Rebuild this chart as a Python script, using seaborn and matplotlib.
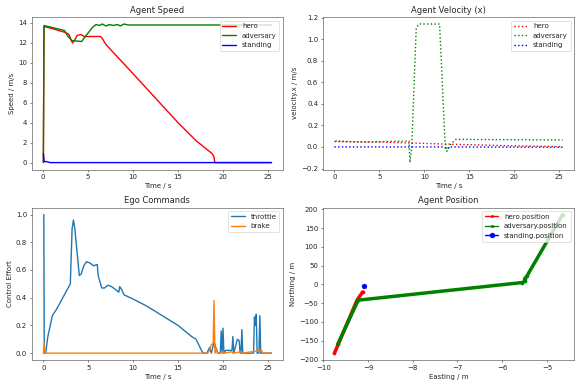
import matplotlib
matplotlib.use('Agg')
import matplotlib.pyplot as plt
import seaborn as sns

sns.set_style("ticks")
plt.rcParams['font.family'] = ['DejaVu Sans']
plt.rcParams['font.size'] = 10
plt.rcParams['axes.titlesize'] = 12
plt.rcParams['legend.fontsize'] = 10
plt.rcParams['lines.linewidth'] = 2.0

# Agent speed (m/s) vs time (s)
hero_speed_t = [0.05, 0.12, 1.0, 2.5, 2.9, 3.1, 3.3, 3.5, 3.8, 4.2, 4.6, 5.5, 6.4, 6.6, 7.0,
                10.0, 15.0, 17.0, 18.8, 19.0, 19.1, 25.4]
hero_speed_v = [0.0, 13.6, 13.4, 13.0, 12.8, 12.3, 11.95, 12.2, 12.7, 12.8, 12.6, 12.6, 12.6,
                12.4, 11.8, 8.9, 4.0, 2.2, 0.9, 0.6, 0.0, 0.0]
adv_speed_t = [0.05, 0.12, 2.4, 2.8, 3.2, 4.3, 4.8, 5.5, 5.9, 6.3, 6.6, 7.0, 7.4, 7.8, 8.3,
               8.6, 9.0, 9.5, 25.4]
adv_speed_v = [0.0, 13.7, 13.2, 12.6, 12.2, 12.1, 12.7, 13.5, 13.8, 13.7, 13.85, 13.65,
               13.8, 13.7, 13.8, 13.65, 13.85, 13.75, 13.75]
stand_speed_t = [0.05, 0.15, 0.4, 0.8, 25.4]
stand_speed_v = [0.9, 0.1, 0.1, 0.0, 0.0]

# Agent velocity x (m/s) vs time (s)
hero_vx_t = [0.0, 5.0, 8.4, 13.0, 20.0, 25.4]
hero_vx_v = [0.05, 0.045, 0.037, 0.025, 0.01, 0.003]
adv_vx_t = [0.1, 3.0, 8.3, 8.4, 8.6, 9.1, 9.4, 11.7, 12.3, 12.5, 13.0, 13.5, 25.4]
adv_vx_v = [0.055, 0.045, 0.055, -0.145, 0.0, 1.1, 1.14, 1.14, 0.05, -0.04, 0.03, 0.07, 0.065]
stand_vx_t = [0.0, 12.2, 12.5, 12.8, 25.4]
stand_vx_v = [0.0, 0.0, -0.02, 0.0, -0.003]

# Ego commands vs time (s)
throttle_t = [0.05, 0.1, 0.25, 0.5, 1.0, 1.5, 3.0, 3.2, 3.35, 3.5, 4.0, 4.2, 4.5, 4.8, 5.2,
              5.6, 6.0, 6.1, 6.5, 6.8, 7.2, 7.6, 8.4, 8.5, 8.7, 9.0, 10.0, 11.5, 13.0, 15.0,
              16.5, 17.0, 17.6, 17.8, 18.2, 18.5, 18.7, 19.0, 19.2, 19.4, 19.7, 19.8, 19.9,
              20.0, 20.1, 20.3, 21.0, 21.1, 21.2, 21.6, 21.8, 21.9, 22.0, 22.1, 22.2, 23.4,
              23.5, 23.6, 23.7, 23.8, 24.0, 24.1, 24.2, 25.4]
throttle_v = [1.0, 0.0, 0.0, 0.12, 0.27, 0.32, 0.5, 0.9, 0.96, 0.9, 0.56, 0.57, 0.63, 0.66,
              0.65, 0.63, 0.64, 0.56, 0.47, 0.47, 0.49, 0.48, 0.44, 0.48, 0.46, 0.42, 0.39,
              0.34, 0.28, 0.20, 0.12, 0.10, 0.02, 0.0, 0.0, 0.04, 0.0, 0.08, 0.04, 0.0, 0.0,
              0.16, 0.0, 0.18, 0.0, 0.02, 0.02, 0.12, 0.0, 0.10, 0.09, 0.0, 0.0, 0.17, 0.0,
              0.0, 0.26, 0.20, 0.28, 0.0, 0.0, 0.27, 0.0, 0.0]
brake_t = [0.0, 0.1, 0.2, 18.3, 18.5, 18.7, 18.9, 19.0, 19.1, 19.3, 19.4, 20.0, 20.1, 21.0,
           21.1, 22.0, 22.1, 24.3, 24.4, 25.4]
brake_v = [0.0, 0.07, 0.0, 0.0, 0.02, 0.06, 0.07, 0.38, 0.0, 0.03, 0.0, 0.01, 0.0, 0.01,
           0.0, 0.01, 0.0, 0.02, 0.0, 0.0]

# Agent positions (m)
hero_e = [-9.75, -9.25, -9.12]
hero_n = [-183, -43, -20]
adv_e = [-9.68, -9.22, -5.55, -5.50, -5.50, -5.45, -4.65]
adv_n = [-160, -42, 5, 8, 15, 22, 186]
stand_e = [-9.08]
stand_n = [-5]

fig, axes = plt.subplots(2, 2, figsize=(11.62, 7.76), dpi=50)
fig.subplots_adjust(left=0.055, right=0.988, bottom=0.072, top=0.956,
                    wspace=0.16, hspace=0.25)

kw = dict(estimator=None, sort=False)

ax = axes[0, 0]
sns.lineplot(x=hero_speed_t, y=hero_speed_v, color='r', label='hero', ax=ax, **kw)
sns.lineplot(x=adv_speed_t, y=adv_speed_v, color='g', label='adversary', ax=ax, **kw)
sns.lineplot(x=stand_speed_t, y=stand_speed_v, color='b', label='standing', ax=ax, **kw)
ax.set_title('Agent Speed')
ax.set_xlabel('Time / s')
ax.set_ylabel('Speed / m/s')
ax.legend(loc='upper right')

ax = axes[0, 1]
sns.lineplot(x=hero_vx_t, y=hero_vx_v, color='r', linestyle=':', label='hero', ax=ax, **kw)
sns.lineplot(x=adv_vx_t, y=adv_vx_v, color='g', linestyle=':', label='adversary', ax=ax, **kw)
sns.lineplot(x=stand_vx_t, y=stand_vx_v, color='b', linestyle=':', label='standing', ax=ax, **kw)
ax.set_title('Agent Velocity (x)')
ax.set_xlabel('Time / s')
ax.set_ylabel('velocity.x / m/s')
ax.legend(loc='upper right')

ax = axes[1, 0]
sns.lineplot(x=throttle_t, y=throttle_v, color='tab:blue', label='throttle', ax=ax, **kw)
sns.lineplot(x=brake_t, y=brake_v, color='tab:orange', label='brake', ax=ax, **kw)
ax.set_title('Ego Commands')
ax.set_xlabel('Time / s')
ax.set_ylabel('Control Effort')
ax.legend(loc='upper right')

ax = axes[1, 1]
pos_kw = dict(marker='.', markersize=9, linewidth=5, **kw)
sns.lineplot(x=hero_e, y=hero_n, color='r', markeredgecolor='r',
             label='hero.position', ax=ax, **pos_kw)
sns.lineplot(x=adv_e, y=adv_n, color='g', markeredgecolor='g',
             label='adversary.position', ax=ax, **pos_kw)
sns.lineplot(x=stand_e, y=stand_n, color='b', markeredgecolor='b', marker='o',
             markersize=7, linewidth=5, label='standing.position', ax=ax, **kw)
ax.set_title('Agent Position')
ax.set_xlabel('Easting / m')
ax.set_ylabel('Northing / m')
leg = ax.legend(loc='upper right', numpoints=1)
for h in leg.get_lines():
    h.set_linewidth(2.0)
    h.set_markersize(7)

for ax in axes.flat:
    for s in ax.spines.values():
        s.set_visible(True)
        s.set_color('0.25')

fig.savefig('out.png', dpi=50)
